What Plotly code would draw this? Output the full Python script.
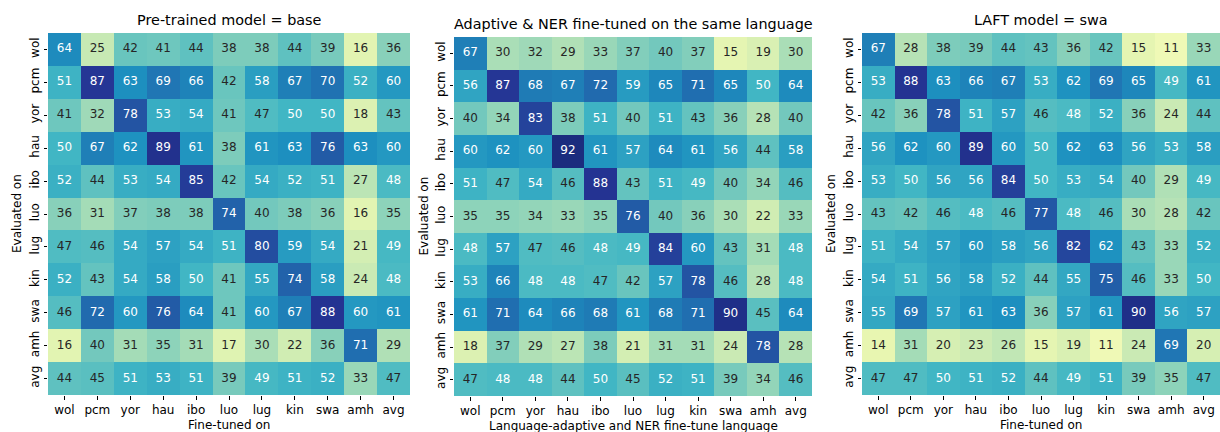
import plotly.graph_objects as go

langs = ["wol", "pcm", "yor", "hau", "ibo", "luo", "lug", "kin", "swa", "amh", "avg"]

base_vals = [
    [64, 25, 42, 41, 44, 38, 38, 44, 39, 16, 36],
    [51, 87, 63, 69, 66, 42, 58, 67, 70, 52, 60],
    [41, 32, 78, 53, 54, 41, 47, 50, 50, 18, 43],
    [50, 67, 62, 89, 61, 38, 61, 63, 76, 63, 60],
    [52, 44, 53, 54, 85, 42, 54, 52, 51, 27, 48],
    [36, 31, 37, 38, 38, 74, 40, 38, 36, 16, 35],
    [47, 46, 54, 57, 54, 51, 80, 59, 54, 21, 49],
    [52, 43, 54, 58, 50, 41, 55, 74, 58, 24, 48],
    [46, 72, 60, 76, 64, 41, 60, 67, 88, 60, 61],
    [16, 40, 31, 35, 31, 17, 30, 22, 36, 71, 29],
    [44, 45, 51, 53, 51, 39, 49, 51, 52, 33, 47],
]

adapt_vals = [
    [67, 30, 32, 29, 33, 37, 40, 37, 15, 19, 30],
    [56, 87, 68, 67, 72, 59, 65, 71, 65, 50, 64],
    [40, 34, 83, 38, 51, 40, 51, 43, 36, 28, 40],
    [60, 62, 60, 92, 61, 57, 64, 61, 56, 44, 58],
    [51, 47, 54, 46, 88, 43, 51, 49, 40, 34, 46],
    [35, 35, 34, 33, 35, 76, 40, 36, 30, 22, 33],
    [48, 57, 47, 46, 48, 49, 84, 60, 43, 31, 48],
    [53, 66, 48, 48, 47, 42, 57, 78, 46, 28, 48],
    [61, 71, 64, 66, 68, 61, 68, 71, 90, 45, 64],
    [18, 37, 29, 27, 38, 21, 31, 31, 24, 78, 28],
    [47, 48, 48, 44, 50, 45, 52, 51, 39, 34, 46],
]

swa_vals = [
    [67, 28, 38, 39, 44, 43, 36, 42, 15, 11, 33],
    [53, 88, 63, 66, 67, 53, 62, 69, 65, 49, 61],
    [42, 36, 78, 51, 57, 46, 48, 52, 36, 24, 44],
    [56, 62, 60, 89, 60, 50, 62, 63, 56, 53, 58],
    [53, 50, 56, 56, 84, 50, 53, 54, 40, 29, 49],
    [43, 42, 46, 48, 46, 77, 48, 46, 30, 28, 42],
    [51, 54, 57, 60, 58, 56, 82, 62, 43, 33, 52],
    [54, 51, 56, 58, 52, 44, 55, 75, 46, 33, 50],
    [55, 69, 57, 61, 63, 36, 57, 61, 90, 56, 57],
    [14, 31, 20, 23, 26, 15, 19, 11, 24, 69, 20],
    [47, 47, 50, 51, 52, 44, 49, 51, 39, 35, 47],
]

titles = ["Pre-trained model = base",
          "Adaptive & NER fine-tuned on the same language",
          "LAFT model = swa"]
xtitles = ["Fine-tuned on", "Language-adaptive and NER fine-tune language", "Fine-tuned on"]
ytitle = "Evaluated on"
vmin, vmax = 0, 100

ylgnbu = [(255, 255, 217), (237, 248, 177), (199, 233, 180), (127, 205, 187),
          (65, 182, 196), (29, 145, 192), (34, 94, 168), (37, 52, 148), (8, 29, 88)]
colorscale = [[i / 8, "rgb(%d,%d,%d)" % c] for i, c in enumerate(ylgnbu)]


def cmap(t):
    t = min(max(t, 0.0), 1.0) * 8
    i = min(int(t), 7)
    f = t - i
    a, b = ylgnbu[i], ylgnbu[i + 1]
    return [(a[k] + (b[k] - a[k]) * f) / 255 for k in range(3)]


def lum(rgb):
    lin = [c / 12.92 if c <= 0.03928 else ((c + 0.055) / 1.055) ** 2.4 for c in rgb]
    return 0.2126 * lin[0] + 0.7152 * lin[1] + 0.0722 * lin[2]


W, H = 1220, 432
# panel boxes in pixels: (x0, x1, ytop, ybottom)
boxes = [(48, 410, 33, 395), (454, 812, 37, 396), (862, 1220, 33, 395)]

fig = go.Figure()
font = "DejaVu Sans, Liberation Sans, sans-serif"
annotations = []

for p, (vals, box) in enumerate(zip([base_vals, adapt_vals, swa_vals], boxes)):
    xa = "x" if p == 0 else "x%d" % (p + 1)
    ya = "y" if p == 0 else "y%d" % (p + 1)
    fig.add_trace(go.Heatmap(z=vals, x=langs, y=langs, colorscale=colorscale,
                             zmin=vmin, zmax=vmax, showscale=False, xgap=0, ygap=0,
                             hoverinfo="skip", xaxis=xa, yaxis=ya))
    tx, ty, tt, tc = [], [], [], []
    for i, row in enumerate(vals):
        for j, v in enumerate(row):
            tx.append(langs[j])
            ty.append(langs[i])
            tt.append(str(v))
            l = lum(cmap((v - vmin) / (vmax - vmin)))
            tc.append("#262626" if l > 0.408 else "white")
    fig.add_trace(go.Scatter(x=tx, y=ty, text=tt, mode="text",
                             textfont=dict(color=tc, size=12, family=font),
                             hoverinfo="skip", showlegend=False, xaxis=xa, yaxis=ya))
    x0, x1, yt, yb = box
    xdom = [x0 / W, x1 / W]
    ydom = [(H - yb) / H, (H - yt) / H]
    axcommon = dict(showgrid=False, zeroline=False, showline=False, ticks="outside",
                    ticklen=3.5, tickwidth=0.8, tickcolor="black",
                    tickfont=dict(size=12, family=font, color="black"),
                    type="category", categoryorder="array", categoryarray=langs)
    xkey = "xaxis" if p == 0 else "xaxis%d" % (p + 1)
    ykey = "yaxis" if p == 0 else "yaxis%d" % (p + 1)
    fig.update_layout(**{
        xkey: dict(domain=xdom, anchor=ya, range=[-0.5, 10.5], **axcommon),
        ykey: dict(domain=ydom, anchor=xa, range=[10.5, -0.5], tickangle=-90, **axcommon),
    })
    xc = (x0 + x1) / 2 / W
    annotations.append(dict(text=titles[p], x=xc, y=(H - yt + 3) / H, xref="paper", yref="paper",
                            xanchor="center", yanchor="bottom", showarrow=False,
                            font=dict(size=14.4, family=font, color="black")))
    annotations.append(dict(text=xtitles[p], x=xc, y=(H - yb - 21) / H, xref="paper", yref="paper",
                            xanchor="center", yanchor="top", showarrow=False,
                            font=dict(size=12, family=font, color="black")))
    annotations.append(dict(text=ytitle, x=(x0 - 31) / W, y=(H - (yt + yb) / 2) / H,
                            xref="paper", yref="paper", xanchor="center", yanchor="middle",
                            textangle=-90, showarrow=False,
                            font=dict(size=12, family=font, color="black")))

fig.update_layout(width=W, height=H, margin=dict(l=0, r=0, t=0, b=0),
                  paper_bgcolor="white", plot_bgcolor="white",
                  annotations=annotations, showlegend=False)

fig.write_html("out.html", config={"displayModeBar": False},
               post_script="document.body.style.margin='0';document.body.style.overflow='hidden';")
